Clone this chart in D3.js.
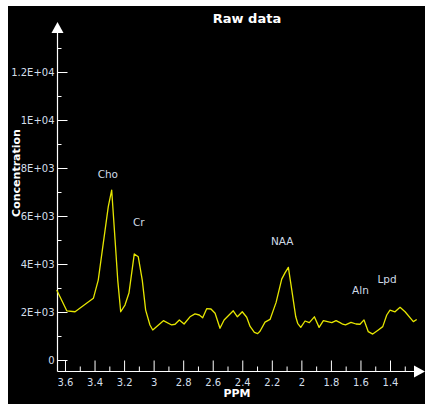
<!DOCTYPE html>
<html><head><meta charset="utf-8">
<script src="https://cdn.jsdelivr.net/npm/d3@7"></script>
<style>html,body{margin:0;padding:0;background:#fff;}svg{display:block;}</style>
</head><body>
<script>
// Data
const ppm = [3.656,3.588,3.532,3.408,3.375,3.329,3.307,3.284,3.261,3.243,3.223,3.194,3.167,3.131,3.104,3.077,3.054,3.025,3.006,2.934,2.878,2.855,2.826,2.794,2.754,2.720,2.691,2.668,2.641,2.612,2.584,2.551,2.523,2.461,2.433,2.400,2.370,2.347,2.318,2.296,2.280,2.246,2.212,2.171,2.133,2.110,2.088,2.065,2.038,2.025,2.004,1.975,1.946,1.912,1.880,1.851,1.794,1.765,1.738,1.720,1.701,1.664,1.630,1.603,1.576,1.547,1.517,1.479,1.449,1.422,1.400,1.366,1.332,1.298,1.242,1.219];
const concentration = [2920,2050,2010,2570,3330,5400,6390,7080,5000,3330,2010,2290,2790,4420,4300,3330,2080,1460,1250,1640,1460,1490,1670,1500,1800,1920,1875,1760,2140,2125,1945,1320,1670,2050,1800,2010,1780,1400,1150,1100,1200,1580,1690,2400,3370,3640,3860,2920,1800,1530,1360,1625,1555,1800,1360,1640,1555,1640,1555,1490,1460,1570,1500,1490,1670,1180,1080,1250,1390,1875,2080,2010,2195,2010,1600,1690];
const xTickValues = [3.6,3.4,3.2,3.0,2.8,2.6,2.4,2.2,2.0,1.8,1.6,1.4];
const xTickLabels = ["3.6","3.4","3.2","3","2.8","2.6","2.4","2.2","2","1.8","1.6","1.4"];
const xMinorTicks = [3.5,3.3,3.1,2.9,2.7,2.5,2.3,2.1,1.9,1.7,1.5,1.3];
const yTickValues = [0,2000,4000,6000,8000,10000,12000];
const yTickLabels = ["0","2E+03","4E+03","6E+03","8E+03","1E+04","1.2E+04"];
const yMinorTicks = [1000,3000,5000,7000,9000,11000,13000];
const peakNames = ["Cho","Cr","NAA","Aln","Lpd"];
const peakPpm = [3.31,3.10,2.13,1.60,1.42];
const peakLabelValue = [7580,5580,4790,2750,3210];

const W = 425, H = 404;
const svg = d3.select("body").append("svg").attr("width", W).attr("height", H);
svg.append("rect").attr("x", 8).attr("y", 6).attr("width", W - 8).attr("height", H - 6).attr("fill", "#000");

const x = d3.scaleLinear().domain([3.6, 1.4]).range([65, 390]);
const y = d3.scaleLinear().domain([0, 13000]).range([360, 48]);
const axisX = 57.5, axisY = 371.5;
const txtColor = "#d4dfeb";

// Title
svg.append("text").attr("x", 247).attr("y", 23).attr("text-anchor", "middle")
  .attr("fill", "#fff").attr("font-family", "DejaVu Sans").attr("font-weight", "bold")
  .attr("font-size", 13).text("Raw data");

// Y axis major
const yAx = svg.append("g").attr("transform", `translate(${axisX},0)`)
  .call(d3.axisLeft(y).tickValues(yTickValues).tickFormat((d, i) => yTickLabels[i]).tickSize(-10).tickPadding(3));
yAx.select(".domain").remove();
yAx.selectAll("line").attr("stroke", "#fff");
yAx.selectAll("text").attr("fill", txtColor).attr("font-family", "DejaVu Sans").attr("font-size", 10);
const yMin = svg.append("g").attr("transform", `translate(${axisX},0)`)
  .call(d3.axisLeft(y).tickValues(yMinorTicks).tickFormat("").tickSize(-4));
yMin.select(".domain").remove();
yMin.selectAll("line").attr("stroke", "#fff");

// X axis major
const xAx = svg.append("g").attr("transform", `translate(0,${axisY})`)
  .call(d3.axisBottom(x).tickValues(xTickValues).tickFormat((d, i) => xTickLabels[i]).tickSize(-11).tickPadding(7));
xAx.select(".domain").remove();
xAx.selectAll("line").attr("stroke", "#fff");
xAx.selectAll("text").attr("fill", txtColor).attr("font-family", "DejaVu Sans").attr("font-size", 10);
const xMin = svg.append("g").attr("transform", `translate(0,${axisY})`)
  .call(d3.axisBottom(x).tickValues(xMinorTicks).tickFormat("").tickSize(-5));
xMin.select(".domain").remove();
xMin.selectAll("line").attr("stroke", "#fff");

// Axis lines with arrows
svg.append("line").attr("x1", axisX).attr("x2", axisX).attr("y1", axisY).attr("y2", 30).attr("stroke", "#fff").attr("stroke-width", 1.2);
svg.append("path").attr("d", `M${axisX},22 L${axisX-6},33 L${axisX+6},33 Z`).attr("fill", "#fff");
svg.append("line").attr("x1", axisX).attr("x2", 417).attr("y1", axisY).attr("y2", axisY).attr("stroke", "#fff").attr("stroke-width", 1.2);
svg.append("path").attr("d", `M425,${axisY} L414,${axisY-6} L414,${axisY+6} Z`).attr("fill", "#fff");

// Axis titles
svg.append("text").attr("x", 237).attr("y", 397).attr("text-anchor", "middle")
  .attr("fill", "#fff").attr("font-family", "DejaVu Sans").attr("font-weight", "bold")
  .attr("font-size", 11).text("PPM");
svg.append("text").attr("transform", "translate(20,173) rotate(-90)").attr("text-anchor", "middle")
  .attr("fill", "#fff").attr("font-family", "DejaVu Sans").attr("font-weight", "bold")
  .attr("font-size", 11).text("Concentration");

// Spectrum line
const line = d3.line().x((d, i) => x(ppm[i])).y(d => y(d));
svg.append("path").datum(concentration).attr("d", line)
  .attr("fill", "none").attr("stroke", "#e6e600").attr("stroke-width", 1.3).attr("stroke-linejoin", "round");

// Peak labels
svg.selectAll(".peak").data(peakNames).enter().append("text")
  .attr("x", (d, i) => x(peakPpm[i])).attr("y", (d, i) => y(peakLabelValue[i]))
  .attr("text-anchor", "middle").attr("fill", "#cfdae6")
  .attr("font-family", "DejaVu Sans").attr("font-size", 10.5).text(d => d);
</script>
</body></html>
